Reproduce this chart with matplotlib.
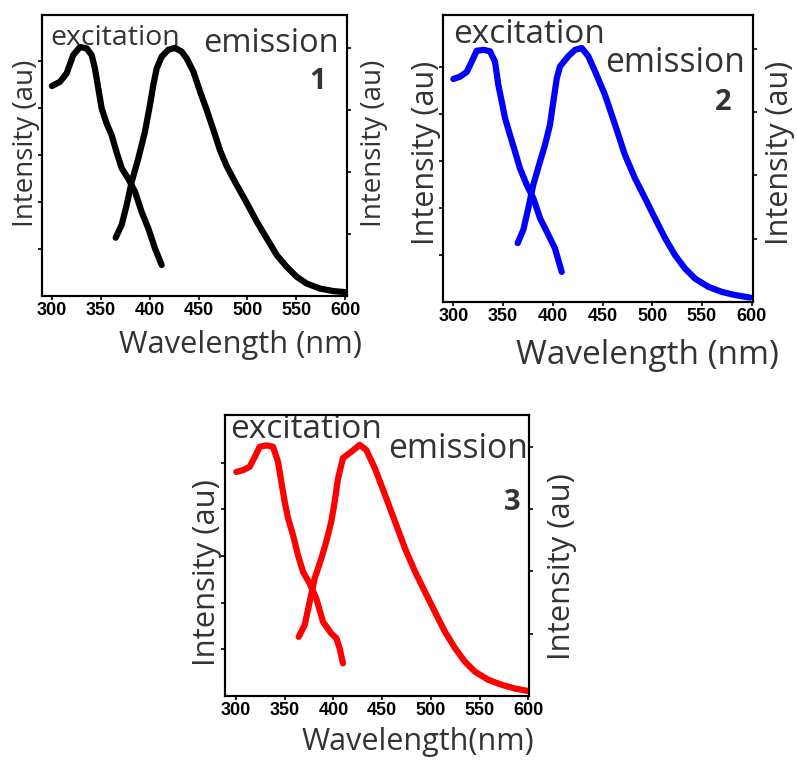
import numpy as np
import matplotlib.pyplot as plt

# ---- data ----
# panel 1 (black)  excitation on left axis, emission on right axis
ex1_x = [300, 308.2, 315, 321.8, 328.7, 335.5, 340.6, 344, 347.4, 350.9, 356, 361, 366, 371.4,
         378, 385, 391.8, 398.6, 405.5, 412.3]
ex1_y = [4.47, 4.56, 4.74, 5.13, 5.30, 5.27, 5.13, 4.84, 4.42, 3.99, 3.67, 3.43, 3.07, 2.72,
         2.50, 2.22, 1.79, 1.44, 1.01, 0.66]
em1_x = [365.2, 371.4, 376.5, 381.6, 388.4, 395.2, 400.3, 403.7, 407.2, 412.3, 419, 426, 432.8,
         437.9, 444.7, 451.5, 458.4, 465.2, 472, 478.9, 489.1, 499.4, 509.6, 519.8, 530.1,
         540.3, 550.5, 560.8, 574.4, 588, 601.7]
em1_y = [0.94, 1.15, 1.47, 1.84, 2.22, 2.65, 3.08, 3.40, 3.67, 3.86, 3.97, 4.00, 3.94,
         3.83, 3.62, 3.30, 3.00, 2.68, 2.35, 2.09, 1.79, 1.50, 1.20, 0.93, 0.66,
         0.47, 0.31, 0.20, 0.12, 0.08, 0.06]

# panel 2 (blue)
ex2_x = [300, 306.7, 313.5, 318.5, 323.5, 330.2, 336.9, 341.9, 345.2, 348.7, 352, 357, 362, 367,
         373.8, 380.4, 387.2, 395.5, 402.2, 409]
ex2_y = [4.74, 4.79, 4.89, 5.11, 5.34, 5.36, 5.33, 5.11, 4.62, 4.26, 3.91, 3.55, 3.20, 2.84,
         2.49, 2.21, 1.78, 1.43, 1.14, 0.64]
em2_x = [364.7, 370.4, 375.4, 380.4, 387.2, 392.2, 397.2, 400.5, 404, 407.3, 415.6, 422.3, 429.1,
         435.7, 442.5, 452.5, 462.6, 472.6, 482.7, 492.7, 502.8, 512.8, 522.9, 532.9, 543,
         556.4, 569.8, 583.2, 598.3]
em2_y = [0.93, 1.14, 1.48, 1.85, 2.22, 2.48, 2.80, 3.16, 3.53, 3.72, 3.88, 3.98, 4.01,
         3.88, 3.64, 3.27, 2.80, 2.32, 1.95, 1.64, 1.32, 1.01, 0.74, 0.53, 0.37,
         0.24, 0.16, 0.11, 0.07]

# panel 3 (red)
ex3_x = [300.3, 307.2, 314, 319.2, 324.3, 331.1, 338, 343.1, 346.5, 350, 353.4, 358.5, 363.6,
         368.8, 375.6, 382.4, 389.3, 397.8, 403, 406.4, 409.8]
ex3_y = [4.80, 4.84, 4.91, 5.12, 5.34, 5.37, 5.34, 5.02, 4.59, 4.16, 3.81, 3.45, 3.02,
         2.66, 2.41, 2.09, 1.59, 1.34, 1.24, 1.02, 0.70]
em3_x = [364.4, 370.5, 375.6, 380.8, 387.6, 392.7, 397.8, 401.3, 404.7, 409.8, 418.3, 426.9,
         433.7, 442.7, 452.9, 463.2, 473.4, 483.7, 494, 504.2, 514.5, 524.7, 535, 545.3,
         558.9, 572.7, 586.3, 600]
em3_y = [0.95, 1.14, 1.51, 1.89, 2.21, 2.48, 2.80, 3.12, 3.49, 3.82, 3.92, 4.03,
         3.95, 3.65, 3.23, 2.80, 2.37, 2.00, 1.67, 1.35, 1.03, 0.77, 0.55, 0.39,
         0.26, 0.18, 0.12, 0.08]

xticks = [300, 350, 400, 450, 500, 550, 600]

plt.rcParams['font.family'] = ['Open Sans', 'DejaVu Sans']
txt_col = '#333333'

fig = plt.figure(figsize=(7.97, 7.6), dpi=100)


def make_panel(rect, ex_x, ex_y, em_x, em_y, color, num, xlabel, xlim, ylim_l, ylim_r,
               ex_pos, em_pos, num_pos, xlab_pos, ylab_pos, fs):
    # fs = (excitation, emission, xlabel, ylabel) font sizes
    ax = fig.add_axes(rect)
    ax2 = ax.twinx()
    ax.plot(ex_x, ex_y, color=color, lw=4.5, solid_capstyle='round', solid_joinstyle='round')
    ax2.plot(em_x, em_y, color=color, lw=4.5, solid_capstyle='round', solid_joinstyle='round')
    ax.set_xlim(*xlim)
    ax.set_ylim(0, ylim_l)
    ax2.set_ylim(0, ylim_r)
    ax.set_xticks(xticks)
    ax.set_xticklabels([str(t) for t in xticks], family='Liberation Sans',
                       fontweight='bold', fontsize=13)
    ax.set_yticks([1, 2, 3, 4, 5])
    ax.set_yticklabels([])
    ax2.set_yticks([1, 2, 3, 4])
    ax2.set_yticklabels([])
    for a in (ax, ax2):
        a.tick_params(direction='out', length=3, width=1.2, pad=1)
        for s in a.spines.values():
            s.set_linewidth(1.5)
    ax.set_xlabel(xlabel, fontsize=fs[2], color=txt_col, va='center')
    ax.xaxis.set_label_coords(*xlab_pos)
    ax.set_ylabel('Intensity (au)', fontsize=fs[3], color=txt_col)
    ax.yaxis.set_label_coords(ylab_pos[0], ylab_pos[2])
    ax2.set_ylabel('Intensity (au)', fontsize=fs[3], color=txt_col)
    ax2.yaxis.set_label_coords(ylab_pos[1], ylab_pos[3])
    ax.text(ex_pos[0], ex_pos[1], 'excitation', transform=ax.transAxes, fontsize=fs[0],
            color=txt_col, ha='left', va='baseline')
    ax.text(em_pos[0], em_pos[1], 'emission', transform=ax.transAxes, fontsize=fs[1],
            color=txt_col, ha='left', va='baseline')
    ax.text(num_pos[0], num_pos[1], num, transform=ax.transAxes, fontsize=21,
            fontweight='bold', color=txt_col, ha='center', va='center')
    return ax


make_panel([0.0527, 0.6105, 0.3827, 0.3697], ex1_x, ex1_y, em1_x, em1_y, 'black', '1',
           'Wavelength (nm)', (289.8, 602), 5.98, 4.53,
           (0.026, 0.893), (0.528, 0.868), (0.905, 0.762),
           (0.652, -0.174), (-0.006, 1.043, 0.544, 0.544), (20.5, 23.5, 22.2, 20))
make_panel([0.5558, 0.6026, 0.3890, 0.3776], ex2_x, ex2_y, em2_x, em2_y, '#0000ff', '2',
           'Wavelength (nm)', (289.6, 601.3), 6.1, 4.53,
           (0.032, 0.902), (0.523, 0.801), (0.903, 0.697),
           (0.661, -0.185), (-0.006, 1.039, 0.52, 0.52), (24, 24.2, 24, 22))
make_panel([0.2823, 0.0842, 0.3814, 0.3697], ex3_x, ex3_y, em3_x, em3_y, '#ff0000', '3',
           'Wavelength(nm)', (288.7, 600.7), 6.02, 4.51,
           (0.016, 0.918), (0.536, 0.847), (0.944, 0.687),
           (0.635, -0.165), (-0.010, 1.059, 0.441, 0.459), (24, 24.2, 22, 22.3))

fig.savefig('out.png', dpi=100)
